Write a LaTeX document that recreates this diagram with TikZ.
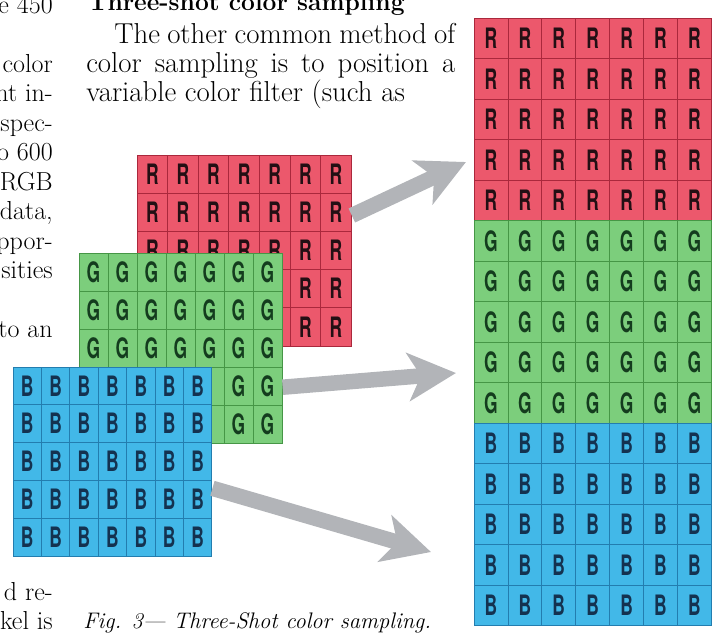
\documentclass[tikz,border=0pt]{standalone}
\usepackage{fontspec}
\setsansfont{TeX Gyre Heros}
\usetikzlibrary{arrows.meta, positioning, fit}
\definecolor{redfill}{RGB}{236,88,108}
\definecolor{redline}{RGB}{170,40,60}
\definecolor{redtext}{RGB}{35,15,20}
\definecolor{greenfill}{RGB}{124,206,124}
\definecolor{greenline}{RGB}{70,150,70}
\definecolor{greentext}{RGB}{20,60,30}
\definecolor{bluefill}{RGB}{66,184,232}
\definecolor{blueline}{RGB}{35,125,175}
\definecolor{bluetext}{RGB}{20,50,80}
\definecolor{arrowgray}{RGB}{178,180,184}

% name, x0, y0, cell w, cell h, style, letter, last hidden column, first hidden row
\newcommand{\cellgrid}[9]{%
  \pgfmathsetmacro{\cw}{#4*0.025}
  \pgfmathsetmacro{\ch}{#5*0.025}
  \foreach \i in {0,...,6}
    \foreach \j in {0,...,4}{
      \ifnum\i>#8 \def\lbl{#7}\else\ifnum\j<#9 \def\lbl{#7}\else\def\lbl{}\fi\fi
      \node[#6, minimum width=\cw cm, minimum height=\ch cm] (#1-\i-\j)
        at ({#2+(\i+0.5)*#4},{#3+(\j+0.5)*#5}) {\scalebox{0.62}[1]{\lbl}};
    }
  \node[fit=(#1-0-0)(#1-6-4), inner sep=0pt] (#1) {};
}

\begin{document}
\begin{tikzpicture}[x=0.025cm, y=-0.025cm,
    txt/.style={font=\fontsize{20.5}{22}\selectfont, inner sep=0pt},
    lcol/.style={font=\fontsize{18.5}{20}\selectfont, inner sep=0pt, anchor=base east},
    cellR/.style={draw=redline, fill=redfill, line width=0.5pt, text=redtext, inner sep=0pt, font=\sffamily\bfseries\fontsize{20}{20}\selectfont},
    cellG/.style={draw=greenline, fill=greenfill, line width=0.5pt, text=greentext, inner sep=0pt, font=\sffamily\bfseries\fontsize{20}{20}\selectfont},
    cellB/.style={draw=blueline, fill=bluefill, line width=0.5pt, text=bluetext, inner sep=0pt, font=\sffamily\bfseries\fontsize{20}{20}\selectfont},
    grayarrow/.style={draw=arrowgray, line width=11pt, -{Stealth[length=34pt, width=34pt, inset=9pt]}}]
    \useasboundingbox (0,0) rectangle (721,641);

    \node[lcol] (l1) at (53,13) {e 450};
    \node[lcol] (l2) at (53,72) {color};
    \node[lcol] (l3) at (53,101) {nt in-};
    \node[lcol] (l4) at (53,131) {spec-};
    \node[lcol] (l5) at (53,160) {o 600};
    \node[lcol] (l6) at (53,190) {RGB};
    \node[lcol] (l7) at (53,219) {data,};
    \node[lcol] (l8) at (53,249) {ppor-};
    \node[lcol] (l9) at (53,278) {sities};
    \node[lcol] (l10) at (53,337) {to an};
    \node[lcol] (l11) at (53,600) {d re-};
    \node[lcol] (l12) at (53,629) {kel is};

    \node[txt, font=\bfseries\fontsize{17.5}{20}\selectfont, anchor=base west] (head) at (88,10) {Three-shot color sampling};
    \node[txt, anchor=base west] (p1) at (114,43) {\makebox[242.6pt][s]{The other common method of}};
    \node[txt, anchor=base west] (p2) at (86,72) {\makebox[262.5pt][s]{color sampling is to position a}};
    \node[txt, anchor=base west] (p3) at (86,101) {variable color filter (such as};

    \coordinate (tipR) at (466,162);
    \coordinate (tipG) at (456,373);
    \coordinate (tipB) at (431,552);

    \cellgrid{smallR}{137}{155}{30.6}{38.2}{cellR}{R}{4}{3}
    \draw[grayarrow] (smallR.18) -- (tipR);
    \cellgrid{smallG}{79}{253}{29}{38}{cellG}{G}{4}{3}
    \draw[grayarrow] (smallG.-21) -- (tipG);
    \cellgrid{smallB}{13}{367}{28.4}{37.8}{cellB}{B}{-1}{9}
    \draw[grayarrow] (smallB.-15) -- (tipB);

    \cellgrid{bigR}{474}{18}{33.9}{40.5}{cellR}{R}{-1}{9}
    \cellgrid{bigG}{474}{220.5}{33.9}{40.5}{cellG}{G}{-1}{9}
    \cellgrid{bigB}{474}{423}{33.9}{40.5}{cellB}{B}{-1}{9}

    \node[txt, font=\itshape\fontsize{16}{20}\selectfont, anchor=base west] (fig) at (83,628) {Fig. 3— Three-Shot color sampling.};
\end{tikzpicture}
\end{document}
